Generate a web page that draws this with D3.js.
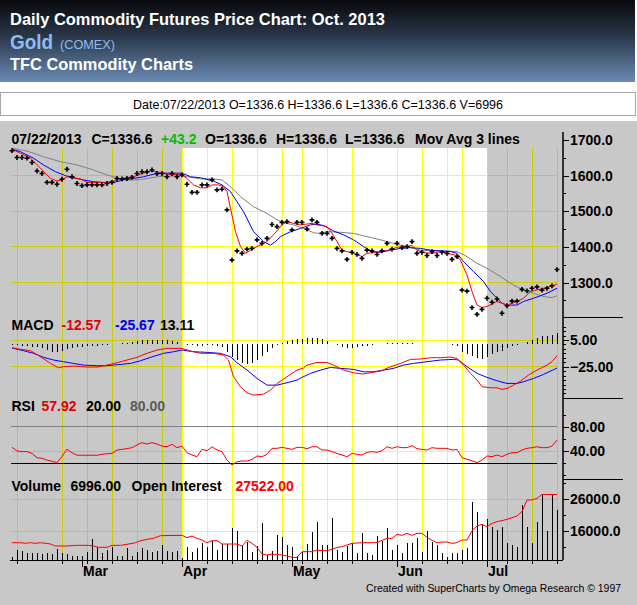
<!DOCTYPE html>
<html><head><meta charset="utf-8">
<script src="https://cdn.jsdelivr.net/npm/d3@7"></script>
<style>
body{margin:0;background:#fff;}
svg{display:block;font-family:"Liberation Sans",Arial,sans-serif;}
</style>
</head><body>
<svg id="c" width="637" height="605"></svg>
<script>
// ---------------- DATA ----------------
// trading-day index 0..109 (Feb 2013 .. 07/22/2013)
const monthTicks = [{label:"Mar",day:14},{label:"Apr",day:34},{label:"May",day:56},{label:"Jun",day:77},{label:"Jul",day:95}];
const gridDays = [1,10,15,20,25,30,34,39,44,49,54,58,63,68,77,82,87,90,95,99,104,109];
const whiteBand = [34,95]; // Apr 1 .. Jul 1

const closes = [1670,1651,1651,1649,1637,1613,1606,1581,1581,1576,
1590,1618,1597,1578,1572,1574,1574,1574,1574,1578,
1581,1592,1591,1592,1595,1606,1611,1611,1616,1606,
1606,1597,1606,1597,1602,1576,1553,1553,1574,1574,
1588,1560,1562,1504,1363,1389,1382,1394,1396,1420,
1410,1424,1463,1457,1469,1471,1448,1469,1469,1450,
1476,1469,1438,1438,1424,1396,1389,1365,1385,1379,
1368,1391,1389,1379,1389,1410,1394,1410,1398,1401,
1415,1382,1385,1376,1387,1376,1385,1382,1365,1373,
1279,1276,1230,1211,1225,1256,1245,1254,1214,1235,
1248,1248,1281,1277,1284,1288,1279,1284,1291,1336.6];

const maRed = [[0,1674],[1.7,1663],[3.7,1649],[5.7,1621],[7.7,1592],[9,1585],[10,1588],[11,1597],[12,1594],[13.7,1591],[15,1581],[19,1581],[20.3,1585],[21.7,1592],[24.3,1597],[25.7,1604],[27.7,1613],[29,1611],[31,1604],[34,1602],[35,1592],[36.3,1574],[37.7,1566],[39,1566],[40,1574],[41.3,1574],[42.3,1569],[43,1555],[43.7,1508],[44.7,1443],[45.7,1401],[46.7,1382],[47.7,1391],[49,1401],[51,1415],[52.3,1434],[54,1462],[55,1471],[56.3,1466],[57.7,1462],[60,1466],[61,1462],[63,1457],[64,1438],[65,1415],[66,1391],[67,1387],[68.3,1382],[70,1373],[71,1382],[73.7,1387],[75.3,1391],[77,1399],[79,1402],[80,1404],[81,1391],[82.3,1384],[84,1382],[85.7,1387],[87,1382],[88.7,1377],[89.7,1363],[91,1321],[92,1275],[93,1237],[94,1230],[95,1233],[97,1247],[98,1242],[99,1237],[101,1247],[102.3,1256],[103.7,1275],[105.7,1282],[107,1286],[108,1291],[109,1296]];
const maBlue = [[0,1674],[1.7,1667],[4.3,1649],[6.3,1630],[8.7,1611],[10.7,1600],[12.3,1594],[14.3,1588],[16.3,1583],[19,1580],[20.3,1581],[22.3,1588],[24.3,1592],[26.3,1597],[28.3,1604],[30.3,1607],[34,1607],[35.7,1597],[37.7,1594],[40.3,1585],[42,1574],[43.7,1555],[45,1527],[46.3,1499],[48.3,1443],[50.3,1415],[51.7,1405],[52.7,1415],[53.7,1429],[55.7,1443],[57.7,1452],[59.7,1462],[61,1464],[62.3,1460],[64.3,1445],[66.3,1434],[68.3,1420],[70.3,1401],[72,1387],[73.7,1385],[75.7,1391],[77.7,1396],[79.7,1398],[81.7,1396],[83.7,1391],[85.7,1389],[87.7,1387],[89,1382],[90.3,1359],[92.3,1331],[94.3,1303],[95.7,1275],[97,1256],[98,1242],[99,1237],[101,1237],[102.3,1247],[104.3,1256],[107,1270],[109,1284]];
const maGray = [[0,1677],[3,1669],[6.3,1653],[9.7,1639],[13,1630],[16.3,1616],[19,1602],[21,1594],[23,1588],[25,1588],[27,1592],[29,1597],[33.7,1600],[36.3,1594],[37.7,1591],[40.3,1591],[42,1588],[43.7,1569],[45.7,1541],[48.3,1513],[51,1494],[53,1476],[55,1466],[56.3,1462],[58.3,1452],[60.3,1440],[61.3,1438],[63,1443],[65.7,1441],[68.3,1438],[71,1429],[73.7,1420],[76.3,1410],[79,1401],[81.7,1391],[84.3,1389],[87,1389],[89,1387],[91,1373],[93,1354],[95,1340],[97.7,1317],[100.3,1293],[102.3,1279],[104.3,1270],[106.3,1261],[108,1258],[109,1263]];

const macdLine = [[0,-3.7],[1.7,-5.5],[3.7,-7],[5.7,-13.8],[7.7,-21.3],[9.3,-26.2],[10.3,-25],[12.3,-24.3],[15,-25.4],[17,-25.4],[19,-23.2],[21,-20.5],[23,-17.5],[25,-14.5],[27,-10],[29,-6.3],[31,-4.4],[34,-4.4],[35.7,-7.4],[37.7,-10],[40.3,-10],[42.3,-11.9],[43.3,-17.5],[44.3,-36.3],[45.7,-47.5],[47,-54.3],[48.3,-56.9],[50.3,-55.8],[51.7,-51.3],[53,-43.8],[55,-36.3],[57,-28.8],[58.3,-26.5],[59,-23.2],[61,-20.2],[63,-20.2],[64.3,-23.2],[66.3,-28.8],[68.3,-31.8],[70,-33.3],[71.7,-31.8],[73.7,-29.9],[75.7,-25],[77.7,-21.3],[79.7,-16.8],[81.7,-16.4],[83.7,-14.9],[85.7,-14.9],[87.7,-14.2],[89,-15.7],[90.3,-23.2],[91.7,-32.5],[93,-40],[94,-47.5],[95.7,-48.7],[97,-48.7],[98,-50.5],[99,-49.4],[100.3,-45.7],[101.7,-41.2],[103.3,-34.4],[105,-28.8],[107,-23.2],[108,-19.4],[109,-12.57]];
const macdSignal = [[0,-4],[2.3,-7],[4.3,-10],[6.3,-14.5],[8.3,-17.5],[10.3,-19.4],[12.3,-21.3],[14.3,-23.2],[17,-23.9],[19,-23.9],[21,-22.8],[23.7,-21.3],[25.7,-18.3],[27.7,-14.5],[30.3,-10],[32.3,-8.2],[34,-6.3],[36.3,-8.2],[39,-8.9],[41.7,-10],[43.7,-13.8],[45,-20.5],[47,-28.8],[49,-38.2],[51,-45.7],[53,-45.7],[55,-43],[57,-40],[58,-37],[59.7,-32.5],[61.7,-28.8],[63.7,-25.8],[65.7,-26.9],[68.3,-28],[70.3,-30.7],[72.3,-30.7],[74.3,-28.8],[76.3,-26.9],[78.3,-23.2],[80.3,-21.3],[83,-19.4],[85.7,-17.5],[88.3,-16.8],[89.3,-17.5],[91,-25],[93,-32.5],[95,-37],[97,-40.8],[99,-43.8],[101,-43.8],[102.3,-41.9],[104.3,-38.2],[106.3,-33.7],[109,-26.5]];
const macdHist = [-0.5,-1,-1.5,-2,-2.5,-3,-4,-6,-8,-9,
-7,-5,-3.5,-3,-2.5,-2,-2,-1.5,-1,-0.5,
0,1,1.5,2,3,4,5,5.5,5.5,5,
5,4.5,4,3,1,-0.5,-1,-1.5,-1.5,-1,
-1,-1.5,-3,-8,-14,-18,-21,-22,-21,-18,
-13,-9,-4,-1,2,4,5,6,6.5,7,
7,7,6,4,1,-1,-3,-4,-4,-3,
-2,-1.5,-1,0,1,1.5,2,2,2,1.5,
1.5,1,1,0.5,0.5,0.5,0,0,-1,-1.5,
-8,-11,-13,-15,-16,-14,-11,-9,-7,-4,
-2,-0.5,1,3,5,7,9,10,11,13.11];

const rsi = [46,40,39,39,36,29,28,25,23,21,
31,43,37,33,33,33,33,33,34.5,35.5,
36,41.6,42.7,44,45.5,50,53.7,51.5,53.7,51.5,
48,47,51,45.5,48,37,33.4,30.7,42.7,40.5,
47,41.6,39,25,17,22.4,23.5,23.5,26.3,31.8,
30.7,34.5,44.4,44.4,46,44.4,42.7,46,46,43.8,
47,47,41.6,41.6,39,36,33.4,30.7,36,34.5,
33.4,37.8,39,37.8,40.5,47,44.4,47,45.5,45.5,
48.7,43.8,42.7,41.6,45.5,44.4,44.4,44.4,41.6,42.7,
29,26.3,24,20.8,25.2,31.8,30.7,33.4,30.7,34.5,
37.2,37.2,41.6,44.4,45.5,47,45.5,45.5,48,57.92];

const volume = [373,1398,1305,932,1025,932,839,932,792,1584,
1025,792,606,559,606,1165,2936,1864,1025,1398,
1771,606,559,1724,559,1165,1724,1398,1165,1258,
2097,1305,1165,1258,300,1864,1165,1631,2423,1771,
2656,1398,2237,2237,4427,4054,2097,2563,1165,1957,
5126,699,1305,3495,3262,2097,1864,606,1165,2237,
3868,5266,2097,2097,5918,1398,1165,1957,2330,932,
3821,1025,699,3355,2703,4427,1398,2097,1025,2423,
2423,3122,1165,4054,2563,2097,1025,466,1025,1025,
1398,1631,8108,6710,4893,5732,4660,4194,4567,2423,
2097,1864,7689,4660,2330,5359,9087,4054,9087,6996];

const openInterest = [[0,12318],[1.7,12318],[2.7,12108],[3.7,12318],[4.7,12108],[5.7,12318],[7.7,11897],[8.7,11266],[11,11266],[12.7,11476],[15.3,11476],[16.3,11266],[17.3,10845],[19,10845],[20,11476],[21.7,11476],[23,11792],[24.7,12318],[25.7,12949],[27,13370],[28.3,13686],[29.7,14527],[34,14632],[35,13896],[36,14422],[37,13686],[38,13160],[39,12318],[40,12949],[41,12949],[42,11897],[45,11897],[46,11266],[47,13054],[48,12108],[49,10845],[50,8741],[51,8426],[52,8741],[54,8426],[55,8110],[56,7689],[57,7689],[58,9478],[60,9478],[61,10004],[62,9793],[63,9793],[64,10214],[65,10845],[66,11056],[67,11582],[68,12108],[70,12318],[73,12318],[74,13054],[75,13686],[76,13686],[77,14948],[78,14632],[79,15264],[80,14632],[81,15264],[82,15264],[83,14001],[84,13054],[85,12318],[86,12528],[87,12528],[88,12108],[89,12318],[90,13160],[91,13160],[92,16105],[93,17578],[94,18104],[95,17368],[96,18420],[97,18946],[98,19261],[99,19682],[100,20208],[101,20734],[102,22102],[103,25784],[104,25784],[105,26310],[106,27522],[109,27522]];

const priceTicks = [1300,1400,1500,1600,1700];
const priceGrid = [1300,1400,1500,1600];
const priceMinor = [1250,1350,1450,1550,1650];
const macdTicks = [5,-25];
const macdMinor = [20,15,10,0,-5,-10,-15,-20,-30,-35,-40,-45,-50,-55];
const rsiTicks = [80,40];
const rsiMinor = [100,60,20,0];
const volTicks = [26000,16000];
const volMinor = [31000,21000,11000];

// ---------------- DRAW ----------------
const svg = d3.select("#c");
const FONT = '"Liberation Sans",Arial,sans-serif';
const GRAY = "#c8c8c8", DKYEL = "#cccc00", YEL = "#ffff00";

// header
const defs = svg.append("defs");
const lg = defs.append("linearGradient").attr("id","hg").attr("x1",0).attr("y1",0).attr("x2",0).attr("y2",1);
lg.append("stop").attr("offset","0%").attr("stop-color","#07090d");
lg.append("stop").attr("offset","45%").attr("stop-color","#2a384a");
lg.append("stop").attr("offset","100%").attr("stop-color","#6a8bb4");
svg.append("rect").attr("x",0).attr("y",0).attr("width",635).attr("height",82).attr("fill","url(#hg)");
svg.append("text").attr("x",10).attr("y",25).attr("fill","#fff").attr("font-weight","bold").attr("font-size",17)
  .attr("textLength",375).attr("lengthAdjust","spacingAndGlyphs").text("Daily Commodity Futures Price Chart: Oct. 2013");
svg.append("text").attr("x",10).attr("y",48.5).attr("fill","#8dbdf0").attr("font-weight","bold").attr("font-size",20)
  .attr("textLength",43).attr("lengthAdjust","spacingAndGlyphs").text("Gold");
svg.append("text").attr("x",60).attr("y",48.5).attr("fill","#8dbdf0").attr("font-size",13)
  .attr("textLength",55).attr("lengthAdjust","spacingAndGlyphs").text("(COMEX)");
svg.append("text").attr("x",10).attr("y",69.5).attr("fill","#fff").attr("font-weight","bold").attr("font-size",17)
  .attr("textLength",183).attr("lengthAdjust","spacingAndGlyphs").text("TFC Commodity Charts");

// date box
svg.append("rect").attr("x",0.5).attr("y",92.5).attr("width",635).attr("height",23).attr("fill","#fff").attr("stroke","#a8a8a8");
svg.append("text").attr("x",133).attr("y",108.5).attr("fill","#000").attr("font-size",13)
  .attr("textLength",370).attr("lengthAdjust","spacingAndGlyphs")
  .text("Date:07/22/2013 O=1336.6 H=1336.6 L=1336.6 C=1336.6 V=6996");

// chart background
svg.append("rect").attr("x",0).attr("y",121).attr("width",637).attr("height",484).attr("fill",GRAY);

// scales
const x = d3.scaleLinear().domain([0,109]).range([12,557]);
const yP = d3.scaleLinear().domain([1300,1700]).range([282.6,140]);
const yM = d3.scaleLinear().domain([5,-25]).range([340,366.7]);
const yR = d3.scaleLinear().domain([80,40]).range([426.7,451]);
const yO = d3.scaleLinear().domain([16000,26000]).range([531,499.3]);
const yV = d3.scaleLinear().domain([0,6996]).range([560,510]);
const plotTop = 148, plotBot = 560, plotL = 11, axisX = 563;

// white band
const wx0 = x(whiteBand[0]), wx1 = x(whiteBand[1]);
svg.append("rect").attr("x",wx0).attr("y",plotTop).attr("width",wx1-wx0).attr("height",plotBot-plotTop).attr("fill","#fff");
defs.append("clipPath").attr("id","wclip").append("rect").attr("x",wx0).attr("y",plotTop).attr("width",wx1-wx0+0.5).attr("height",plotBot-plotTop);

// gridlines (dark yellow everywhere, bright yellow inside white band)
function grid(g, color){
  g.selectAll(".v").data(gridDays).join("line")
    .attr("x1",d=>x(d)).attr("x2",d=>x(d)).attr("y1",plotTop).attr("y2",plotBot)
    .attr("stroke",color).attr("shape-rendering","crispEdges");
  const hs = [].concat(priceGrid.map(v=>yP(v)), macdTicks.map(v=>yM(v)), [yR(40)], volTicks.map(v=>yO(v)));
  g.selectAll(".h").data(hs).join("line")
    .attr("x1",plotL).attr("x2",x(109)).attr("y1",d=>d).attr("y2",d=>d)
    .attr("stroke",color).attr("shape-rendering","crispEdges");
}
grid(svg.append("g"), DKYEL);
grid(svg.append("g").attr("clip-path","url(#wclip)"), YEL);

// RSI reference lines
svg.append("line").attr("x1",plotL).attr("x2",x(109)).attr("y1",yR(80)).attr("y2",yR(80)).attr("stroke","#808080").attr("shape-rendering","crispEdges");
svg.append("line").attr("x1",plotL).attr("x2",x(109)).attr("y1",yR(20)).attr("y2",yR(20)).attr("stroke","#000").attr("shape-rendering","crispEdges");

// price panel
const lineP = d3.line().x(d=>x(d[0])).y(d=>yP(d[1]));
svg.append("path").attr("d",lineP(maGray)).attr("fill","none").attr("stroke","#808080").attr("stroke-width",1);
svg.append("path").attr("d",lineP(maBlue)).attr("fill","none").attr("stroke","#0000ff").attr("stroke-width",1);
svg.append("path").attr("d",lineP(maRed)).attr("fill","none").attr("stroke","#ff0000").attr("stroke-width",1);
svg.append("g").selectAll("path").data(closes).join("path")
  .attr("transform",(d,i)=>`translate(${x(i)},${yP(d)})`)
  .attr("d",d3.symbol(d3.symbolCross,13)()).attr("fill","#000");

// MACD panel
svg.append("g").selectAll("line").data(macdHist).join("line")
  .attr("x1",(d,i)=>x(i)).attr("x2",(d,i)=>x(i)).attr("y1",yM(0)).attr("y2",d=>yM(d))
  .attr("stroke","#000").attr("shape-rendering","crispEdges");
const lineM = d3.line().x(d=>x(d[0])).y(d=>yM(d[1]));
svg.append("path").attr("d",lineM(macdSignal)).attr("fill","none").attr("stroke","#0000ff");
svg.append("path").attr("d",lineM(macdLine)).attr("fill","none").attr("stroke","#ff0000");

// RSI panel
svg.append("path").attr("d",d3.line().x((d,i)=>x(i)).y(d=>yR(d))(rsi)).attr("fill","none").attr("stroke","#ff0000");

// Volume panel
svg.append("g").selectAll("line").data(volume).join("line")
  .attr("x1",(d,i)=>x(i)).attr("x2",(d,i)=>x(i)).attr("y1",yV(0)).attr("y2",d=>yV(d))
  .attr("stroke","#000").attr("shape-rendering","crispEdges");
svg.append("path").attr("d",d3.line().x(d=>x(d[0])).y(d=>yO(d[1]))(openInterest)).attr("fill","none").attr("stroke","#ff0000");

// panel texts
function label(y, parts){
  parts.forEach(p=>{
    svg.append("text").attr("x",p[0]).attr("y",y).attr("fill",p[2]).attr("font-size",14).attr("font-weight","bold").text(p[1]);
  });
}
label(144,[[11.5,"07/22/2013","#000"],[91.5,"C=1336.6","#000"],[161,"+43.2","#00c000"],[205,"O=1336.6","#000"],[276,"H=1336.6","#000"],[345,"L=1336.6","#000"],[415,"Mov Avg 3 lines","#000"]]);
label(330,[[11.5,"MACD","#000"],[61.5,"-12.57","#e00000"],[115,"-25.67","#0000e0"],[160,"13.11","#000"]]);
label(411,[[11.5,"RSI","#000"],[41.5,"57.92","#e00000"],[86,"20.00","#000"],[130,"80.00","#5a5a5a"]]);
label(491,[[11.5,"Volume","#000"],[70.5,"6996.00","#000"],[131.5,"Open Interest","#000"],[235.5,"27522.00","#ff0000"]]);

// right axes
defs.append("clipPath").attr("id","rclip").append("rect").attr("x",0).attr("y",0).attr("width",623).attr("height",605);
const ax = svg.append("g").attr("clip-path","url(#rclip)");
function rAxis(scale, major, minor, fmt){
  const g1 = ax.append("g").attr("transform",`translate(${axisX},0)`)
    .call(d3.axisRight(scale).tickValues(major).tickFormat(d3.format(fmt)).tickSizeInner(6).tickSizeOuter(0).tickPadding(1));
  g1.select(".domain").remove();
  g1.attr("font-size",14).attr("font-weight","bold").attr("font-family",FONT);
  g1.selectAll("line").attr("stroke","#000").attr("shape-rendering","crispEdges");
  const g2 = ax.append("g").attr("transform",`translate(${axisX},0)`)
    .call(d3.axisRight(scale).tickValues(minor).tickFormat("").tickSizeInner(3).tickSizeOuter(0));
  g2.select(".domain").remove();
  g2.selectAll("line").attr("stroke","#000").attr("shape-rendering","crispEdges");
}
rAxis(yP, priceTicks, priceMinor, ".1f");
rAxis(yM, macdTicks, macdMinor, ".2f");
rAxis(yR, rsiTicks, rsiMinor, ".2f");
rAxis(yO, volTicks, volMinor, ".1f");

// axis frame lines
svg.append("line").attr("x1",axisX).attr("x2",axisX).attr("y1",132).attr("y2",plotBot).attr("stroke","#000").attr("stroke-width",1.5);
[317,398,479].forEach(y=>svg.append("line").attr("x1",axisX).attr("x2",623).attr("y1",y).attr("y2",y).attr("stroke","#000").attr("shape-rendering","crispEdges"));
svg.append("line").attr("x1",10).attr("x2",axisX).attr("y1",plotBot).attr("y2",plotBot).attr("stroke","#000").attr("shape-rendering","crispEdges");

// bottom axis
const gb = svg.append("g").attr("transform",`translate(0,${plotBot})`)
  .call(d3.axisBottom(x).tickValues(gridDays).tickFormat("").tickSizeInner(4).tickSizeOuter(0));
gb.select(".domain").remove();
gb.selectAll("line").attr("shape-rendering","crispEdges");
const gm = svg.append("g").attr("transform",`translate(0,${plotBot})`)
  .call(d3.axisBottom(x).tickValues(monthTicks.map(d=>d.day)).tickFormat("").tickSizeInner(7).tickSizeOuter(0));
gm.select(".domain").remove();
gm.selectAll("line").attr("shape-rendering","crispEdges");
svg.append("g").selectAll("text").data(monthTicks).join("text")
  .attr("x",d=>x(d.day)+1).attr("y",576).attr("font-size",14).attr("font-weight","bold").attr("fill","#000").text(d=>d.label);

// footer
svg.append("text").attr("x",366).attr("y",592).attr("font-size",11).attr("fill","#000")
  .attr("textLength",255).attr("lengthAdjust","spacingAndGlyphs").text("Created with SuperCharts by Omega Research © 1997");
</script>
</body></html>
